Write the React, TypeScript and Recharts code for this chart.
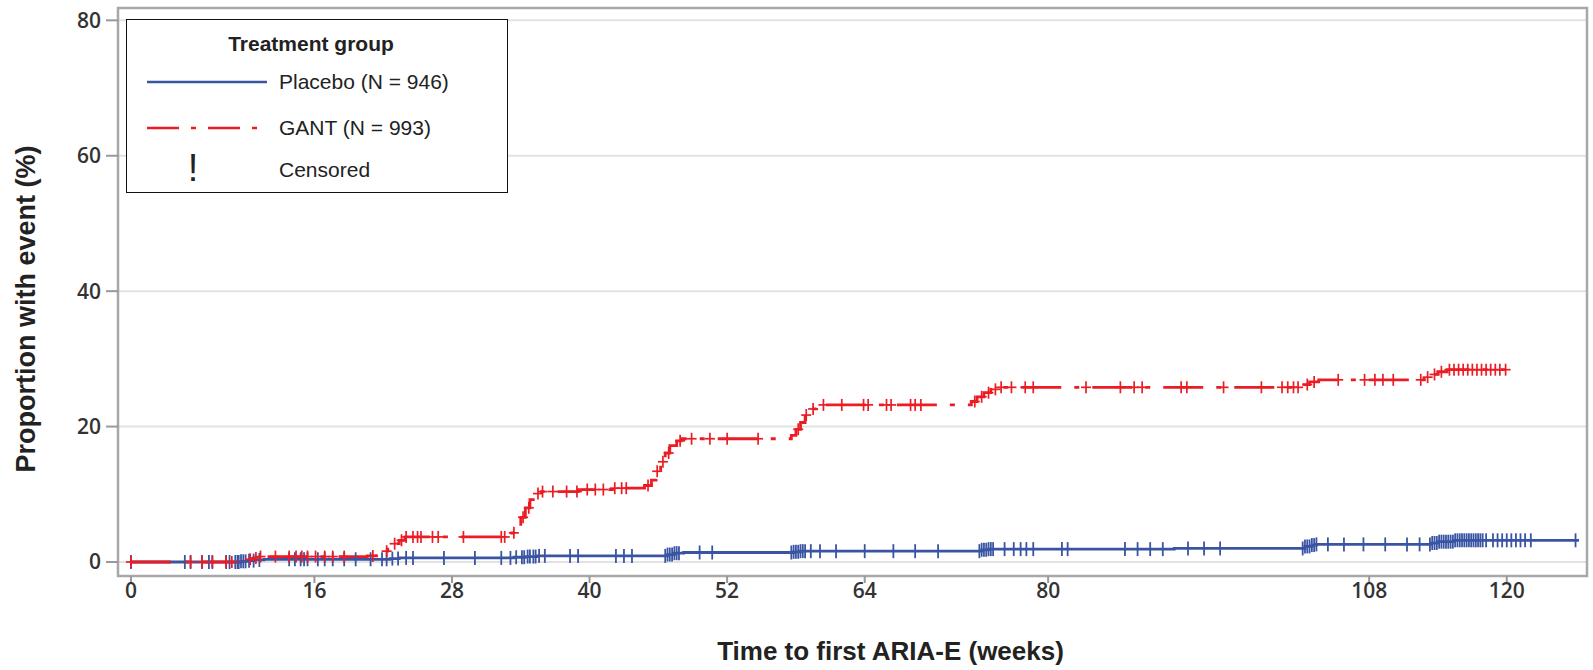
import {
  ComposedChart,
  Line,
  Scatter,
  XAxis,
  YAxis,
  CartesianGrid,
  ReferenceArea,
} from "recharts";

// Kaplan-Meier steps: [week, cumulative % with event]
const placeboSteps: [number, number][] = [
  [0, 0], [9.6, 0.1], [10.2, 0.2], [10.8, 0.3], [11.6, 0.4], [22.6, 0.5], [23.4, 0.6],
  [33.4, 0.7], [34.4, 0.8], [35.4, 0.9], [46.8, 1.1], [47.4, 1.3], [48.2, 1.4],
  [57.8, 1.5], [58.4, 1.6], [74.2, 1.8], [74.8, 1.9], [91.0, 2.0], [102.4, 2.3],
  [103.0, 2.5], [103.4, 2.6], [113.4, 2.8], [114.0, 3.0], [115.4, 3.2], [126.3, 3.2],
];

const gantSteps: [number, number][] = [
  [0, 0], [9.9, 0.2], [10.3, 0.4], [10.7, 0.6], [11.2, 0.8], [20.6, 0.9], [21.4, 1.2],
  [21.9, 1.6], [22.4, 2.1], [22.9, 2.7], [23.4, 3.2], [23.9, 3.7], [33.2, 4.3],
  [33.6, 5.3], [34.0, 6.6], [34.4, 8.0], [34.8, 9.2], [35.3, 10.1], [35.8, 10.4],
  [39.0, 10.7], [42.0, 10.9], [44.8, 11.3], [45.4, 12.1], [45.8, 13.4], [46.2, 14.8],
  [46.6, 16.1], [47.0, 17.2], [47.6, 17.9], [48.0, 18.2], [57.6, 18.7], [58.0, 19.6],
  [58.4, 20.6], [58.8, 21.7], [59.2, 22.6], [59.8, 23.2], [73.3, 23.7], [73.8, 24.4],
  [74.4, 25.0], [75.0, 25.5], [75.8, 25.8], [102.3, 26.2], [102.8, 26.6], [103.6, 26.9],
  [112.8, 27.3], [113.4, 27.7], [114.0, 28.1], [114.8, 28.4], [119.9, 28.4],
];

// censoring times (weeks)
const placeboCensored = [
  0, 4.7, 5.2, 6.2, 6.8, 7.1, 8.3, 8.6, 9.1, 9.3, 9.4, 9.6, 9.8, 10.0, 10.3, 10.7, 11.2,
  13.8, 14.3, 14.8, 15.1, 15.4, 16.3, 16.9, 17.6, 18.6, 19.6, 20.9, 21.9, 22.3, 22.8,
  23.3, 24.0, 24.6, 27.3, 30.0, 32.3, 33.1, 33.6, 34.1, 34.3, 34.6, 34.8, 35.1, 35.3,
  35.6, 36.1, 38.3, 39.0, 42.3, 43.0, 43.7, 46.6, 46.8, 47.0, 47.2, 47.4, 47.6, 47.8,
  49.6, 50.7, 57.6, 57.8, 58.0, 58.2, 58.4, 58.6, 58.8, 59.3, 60.1, 61.5, 64.0, 66.5,
  68.4, 70.4, 74.0, 74.2, 74.4, 74.6, 74.8, 75.0, 75.2, 76.2, 77.0, 77.6, 78.1, 78.7,
  81.2, 81.7, 86.7, 87.8, 88.9, 90.0, 92.2, 93.6, 95.0, 102.2, 102.4, 102.6, 102.8,
  103.0, 103.2, 103.4, 104.4, 105.8, 107.5, 109.4, 111.3, 112.4, 113.3, 113.5, 113.7,
  113.9, 114.1, 114.3, 114.5, 114.7, 114.9, 115.1, 115.3, 115.5, 115.7, 115.9, 116.1,
  116.3, 116.5, 116.7, 116.9, 117.1, 117.3, 117.5, 117.7, 117.9, 118.2, 118.8, 119.2,
  119.6, 120.0, 120.4, 120.8, 121.2, 121.6, 122.1, 126.0,
];

const gantCensored = [
  0, 5.2, 6.2, 7.1, 8.3, 8.8, 10.4, 10.9, 11.3, 12.6, 13.8, 14.4, 14.9, 15.4, 16.1,
  16.9, 17.6, 18.6, 21.1, 22.3, 23.0, 23.6, 24.0, 24.6, 25.0, 25.3, 26.3, 26.8, 29.0,
  32.3, 32.6, 33.4, 34.2, 34.7, 35.5, 35.9, 36.8, 38.0, 38.9, 39.8, 40.5, 41.2, 42.2,
  42.8, 43.2, 45.1, 45.9, 46.4, 46.9, 47.9, 48.9, 50.5, 52.0, 54.7, 58.2, 58.9, 59.5,
  60.4, 62.0, 63.9, 64.3, 65.9, 66.3, 68.0, 68.4, 68.9, 73.6, 74.2, 74.8, 75.4, 75.9,
  76.8, 78.0, 78.7, 83.3, 86.3, 87.5, 88.2, 91.6, 92.1, 95.3, 98.6, 100.4, 100.9, 101.4,
  101.8, 102.6, 103.2, 105.3, 107.6, 108.5, 109.2, 110.1, 112.5, 113.1, 113.7, 114.3,
  115.0, 115.4, 115.8, 116.2, 116.6, 117.0, 117.4, 117.8, 118.2, 118.6, 119.0, 119.4,
  119.9,
];

const xTicks = [0, 16, 28, 40, 52, 64, 80, 108, 120];
const yTicks = [0, 20, 40, 60, 80];

const BLUE = "#3a54a4";
const RED = "#ec1c24";

const toRows = (steps: [number, number][]) => steps.map(([t, p]) => ({ t, p }));

// value of the step curve at time t
const stepAt = (steps: [number, number][], t: number) => {
  let v = steps[0][1];
  for (const [st, sp] of steps) if (st <= t) v = sp;
  return v;
};

const placeboLine = toRows(placeboSteps);
const gantLine = toRows(gantSteps);
const placeboMarks = placeboCensored.map((t) => ({ t, p: stepAt(placeboSteps, t) }));
const gantMarks = gantCensored.map((t) => ({ t, p: stepAt(gantSteps, t) }));

const BlueTick = (props: any) => {
  const { cx, cy } = props;
  return <line x1={cx} x2={cx} y1={cy - 7} y2={cy + 7} stroke={BLUE} strokeWidth={1.8} />;
};

const RedPlus = (props: any) => {
  const { cx, cy } = props;
  return (
    <g stroke={RED} strokeWidth={1.7}>
      <line x1={cx} x2={cx} y1={cy - 6} y2={cy + 6} />
      <line x1={cx - 5} x2={cx + 5} y1={cy} y2={cy} />
    </g>
  );
};

const tickFont = { fontFamily: "Open Sans", fontWeight: 600, fontSize: 21, fill: "#333" };
const titleFont = "Liberation Sans, Arial, sans-serif";

function LegendBox() {
  return (
    <div
      style={{
        position: "absolute",
        left: 126,
        top: 19,
        width: 380,
        height: 172,
        border: "1.5px solid #111",
        background: "#fff",
      }}
    >
      <svg width={380} height={172} fontFamily={titleFont} style={{ overflow: "visible" }}>
        <text x={184} y={31} textAnchor="middle" fontWeight="bold" fontSize={21} fill="#222">
          Treatment group
        </text>
        <line x1={20} x2={140} y1={62} y2={62} stroke={BLUE} strokeWidth={2.5} />
        <text x={152} y={69} fontSize={21} fill="#222">Placebo (N = 946)</text>
        <line x1={20} x2={140} y1={108} y2={108} stroke={RED} strokeWidth={2.5} strokeDasharray="32 12 5 12" />
        <text x={152} y={115} fontSize={21} fill="#222">GANT (N = 993)</text>
        <text x={66} y={161} textAnchor="middle" fontSize={38} fill="#222">!</text>
        <text x={152} y={157} fontSize={21} fill="#222">Censored</text>
      </svg>
    </div>
  );
}

export default function App() {
  return (
    <div style={{ position: "absolute", left: 0, top: 0, width: 1593, height: 670, background: "#fff" }}>
      <ComposedChart width={1593} height={670} margin={{ top: 8, right: 6, left: 0, bottom: 0 }}>
        <CartesianGrid vertical={false} stroke="#e2e2e2" strokeWidth={2} />
        <XAxis
          type="number"
          dataKey="t"
          domain={[-1.13, 127]}
          allowDataOverflow
          ticks={xTicks}
          interval={0}
          height={94}
          tick={tickFont}
          tickSize={7}
          tickMargin={0}
          axisLine={false}
          tickLine={{ stroke: "#999", strokeWidth: 2 }}
          label={{
            content: (p: any) => {
              const vb = p.viewBox;
              return (
                <text
                  x={vb.x + vb.width / 2 + 38}
                  y={660}
                  textAnchor="middle"
                  fontFamily={titleFont}
                  fontWeight="bold"
                  fontSize={26}
                  fill="#222"
                >
                  Time to first ARIA-E (weeks)
                </text>
              );
            },
          }}
        />
        <YAxis
          type="number"
          dataKey="p"
          domain={[-2.07, 81.82]}
          allowDataOverflow
          ticks={yTicks}
          interval={0}
          width={118}
          tick={tickFont}
          tickSize={12}
          tickMargin={5}
          axisLine={false}
          tickLine={{ stroke: "#999", strokeWidth: 2 }}
          label={{
            content: () => (
              <text
                x={35}
                y={309}
                transform="rotate(-90 35 309)"
                textAnchor="middle"
                fontFamily={titleFont}
                fontWeight="bold"
                fontSize={27}
                fill="#222"
              >
                Proportion with event (%)
              </text>
            ),
          }}
        />
        <ReferenceArea
          x1={-1.13}
          x2={127}
          y1={-2.07}
          y2={81.82}
          fill="none"
          stroke="#a8a8a8"
          strokeWidth={2.5}
        />
        <Line
          data={placeboLine}
          dataKey="p"
          type="stepAfter"
          stroke={BLUE}
          strokeWidth={2.8}
          dot={false}
          isAnimationActive={false}
        />
        <Scatter data={placeboMarks} dataKey="p" shape={BlueTick} isAnimationActive={false} />
        <Line
          data={gantLine}
          dataKey="p"
          type="stepAfter"
          stroke={RED}
          strokeWidth={2.8}
          strokeDasharray="40 13 5 13"
          dot={false}
          isAnimationActive={false}
        />
        <Scatter data={gantMarks} dataKey="p" shape={RedPlus} isAnimationActive={false} />
      </ComposedChart>
      <LegendBox />
    </div>
  );
}
